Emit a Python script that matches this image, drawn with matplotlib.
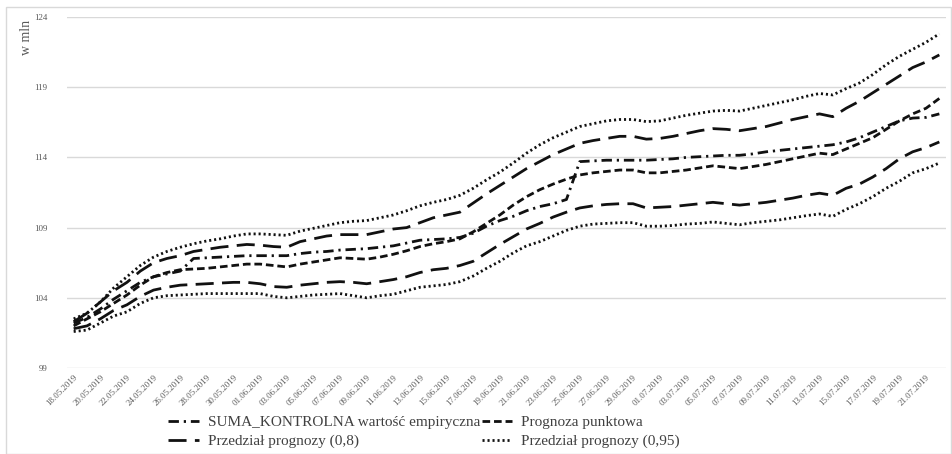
import matplotlib
matplotlib.use("Agg")
import matplotlib.pyplot as plt
from matplotlib.patches import Rectangle
import datetime as dt

plt.rcParams['font.family'] = ['Liberation Serif', 'DejaVu Serif']
plt.rcParams['lines.scale_dashes'] = False

start = dt.date(2019, 5, 18)
n_days = 66
dates = [start + dt.timedelta(days=k) for k in range(n_days)]
date_labels = [d.strftime("%d.%m.%Y") for d in dates]

empirical = [102.2, 102.6, 103.2, 103.9, 104.5, 105.1, 105.5, 105.7, 105.9, 106.8,
             106.85, 106.9, 106.95, 107.0, 107.0, 107.0, 107.0, 107.15, 107.25, 107.3,
             107.4, 107.45, 107.5, 107.6, 107.7, 107.9, 108.1, 108.15, 108.2, 108.3,
             108.6, 109.1, 109.5, 109.8, 110.2, 110.5, 110.7, 111.0, 113.7, 113.75,
             113.8, 113.8, 113.8, 113.8, 113.85, 113.9, 114.0, 114.05, 114.1, 114.15,
             114.15, 114.25, 114.4, 114.5, 114.6, 114.7, 114.8, 114.9, 115.1, 115.4,
             115.8, 116.2, 116.6, 116.8, 116.85, 117.1]

forecast = [102.0, 102.5, 103.0, 103.6, 104.2, 104.9, 105.5, 105.8, 106.0, 106.05,
            106.1, 106.2, 106.3, 106.4, 106.4, 106.3, 106.2, 106.4, 106.55, 106.7,
            106.85, 106.8, 106.75, 106.9, 107.1, 107.35, 107.65, 107.85, 108.0, 108.2,
            108.7, 109.3, 109.9, 110.6, 111.2, 111.7, 112.1, 112.45, 112.75, 112.9,
            113.0, 113.1, 113.1, 112.9, 112.9, 113.0, 113.1, 113.25, 113.4, 113.3,
            113.2, 113.35, 113.5, 113.7, 113.9, 114.1, 114.3, 114.2, 114.6, 115.0,
            115.4, 116.0, 116.6, 117.1, 117.5, 118.2]

upper_80 = [102.3, 102.9, 103.7, 104.5, 105.1, 105.9, 106.5, 106.8, 107.0, 107.3,
            107.45, 107.6, 107.7, 107.8, 107.75, 107.65, 107.6, 108.0, 108.2, 108.4,
            108.5, 108.5, 108.5, 108.7, 108.9, 109.0, 109.35, 109.7, 109.9, 110.1,
            110.75, 111.4, 112.0, 112.6, 113.2, 113.7, 114.2, 114.6, 115.0, 115.2,
            115.35, 115.5, 115.5, 115.3, 115.35, 115.5, 115.7, 115.9, 116.05, 116.0,
            115.9, 116.05, 116.2, 116.45, 116.7, 116.9, 117.1, 116.9, 117.5, 118.0,
            118.6, 119.2, 119.8, 120.4, 120.8, 121.3]

lower_80 = [101.8, 102.0, 102.5, 103.1, 103.5, 104.1, 104.55, 104.75, 104.9, 104.95,
            105.0, 105.05, 105.1, 105.1, 105.0, 104.8, 104.75, 104.9, 105.0, 105.1,
            105.15, 105.1, 105.0, 105.15, 105.3, 105.5, 105.8, 106.0, 106.1, 106.3,
            106.6, 107.2, 107.8, 108.35, 108.9, 109.3, 109.75, 110.1, 110.4, 110.55,
            110.65, 110.7, 110.7, 110.4, 110.45, 110.5, 110.6, 110.7, 110.8, 110.7,
            110.6, 110.7, 110.8, 110.95, 111.1, 111.3, 111.45, 111.3, 111.8, 112.1,
            112.6, 113.2, 113.9, 114.4, 114.7, 115.1]

upper_95 = [102.5, 102.9, 103.7, 104.7, 105.5, 106.3, 106.9, 107.3, 107.6, 107.85,
            108.05, 108.2, 108.4, 108.55, 108.55, 108.5, 108.45, 108.75, 108.95, 109.15,
            109.35, 109.45, 109.5, 109.7, 109.9, 110.2, 110.55, 110.8, 111.0, 111.3,
            111.8, 112.4, 112.95, 113.6, 114.3, 114.9, 115.4, 115.8, 116.2, 116.4,
            116.6, 116.7, 116.7, 116.55, 116.6, 116.8, 117.0, 117.15, 117.3, 117.35,
            117.3, 117.5, 117.7, 117.9, 118.1, 118.35, 118.55, 118.45, 118.9, 119.3,
            119.9, 120.6, 121.2, 121.7, 122.2, 122.8]

lower_95 = [101.6, 101.7, 102.2, 102.7, 103.0, 103.6, 104.0, 104.15, 104.2, 104.25,
            104.3, 104.3, 104.3, 104.3, 104.3, 104.1, 104.0, 104.1, 104.2, 104.25,
            104.3, 104.15, 104.0, 104.15, 104.25, 104.5, 104.75, 104.85, 104.95, 105.15,
            105.55, 106.1, 106.6, 107.2, 107.7, 108.0, 108.4, 108.8, 109.1, 109.25,
            109.3, 109.35, 109.35, 109.1, 109.1, 109.15, 109.25, 109.3, 109.4, 109.3,
            109.2, 109.35, 109.45, 109.55, 109.7, 109.85, 109.97, 109.8, 110.3, 110.7,
            111.2, 111.8, 112.3, 112.9, 113.2, 113.6]

y_ticks = [99, 104, 109, 114, 119, 124]

W, H = 953, 454
fig = plt.figure(figsize=(W / 100, H / 100), dpi=100)
ax = fig.add_axes([67 / W, 1 - 368 / H, (946 - 67) / W, (368 - 17) / H])

x = list(range(n_days))
ink = '#111111'
lw = 2.0

ax.plot(x, empirical, color=ink, lw=lw, dashes=(7.5, 3.5, 1.6, 3.5),
        label='SUMA_KONTROLNA wartość empiryczna')
ax.plot(x, forecast, color=ink, lw=lw, dashes=(5.5, 2.8),
        label='Prognoza punktowa')
ax.plot(x, upper_80, color=ink, lw=lw, dashes=(13, 6),
        label='Przedział prognozy (0,8)')
ax.plot(x, lower_80, color=ink, lw=lw, dashes=(13, 6))
ax.plot(x, upper_95, color=ink, lw=lw, dashes=(1.5, 2.1),
        label='Przedział prognozy (0,95)')
ax.plot(x, lower_95, color=ink, lw=lw, dashes=(1.5, 2.1))

ax.set_xlim(-0.5, n_days - 0.5)
ax.set_ylim(99, 124)
ax.set_yticks(y_ticks)
ax.set_yticklabels([str(v) for v in y_ticks])
ax.grid(axis='y', color='#d9d9d9', lw=1.0)
ax.set_axisbelow(True)
for s in ax.spines.values():
    s.set_visible(False)

tick_pos = x[::2][:33]
ax.set_xticks(tick_pos)
ax.set_xticklabels([date_labels[i] for i in tick_pos], rotation=45,
                   ha='right', va='top', rotation_mode='anchor',
                   fontsize=6.3, color='#595959')
ax.tick_params(axis='x', length=0, pad=4)
ax.tick_params(axis='y', length=0, pad=14, labelsize=6.5, labelcolor='#595959')

fig.text(27 / W, 1 - 37 / H, 'w mln', rotation=90, ha='center', va='center',
         fontsize=10, color='#595959')

handles, labels = ax.get_legend_handles_labels()
order = [0, 2, 1, 3]
leg = fig.legend([handles[i] for i in order], [labels[i] for i in order],
                 loc='center', bbox_to_anchor=(424 / W, 1 - 432 / H), ncol=2,
                 frameon=False, fontsize=11, handlelength=2.0, handletextpad=0.6,
                 columnspacing=0.1, labelspacing=0.35, labelcolor='#404040')

fig.patches.append(Rectangle((6 / W, 0), (951 - 6) / W, 1 - 7 / H,
                             transform=fig.transFigure, fill=False,
                             edgecolor='#d9d9d9', lw=1.0))

fig.savefig('out.png', dpi=100)
